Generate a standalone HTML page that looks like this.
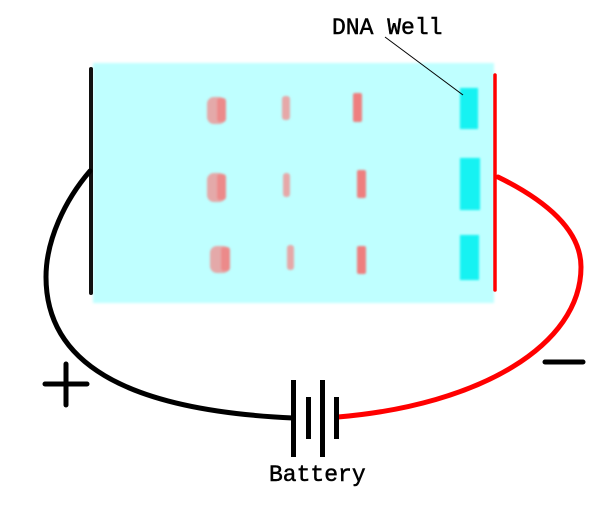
<!DOCTYPE html>
<html><head><meta charset="utf-8"><style>
html,body{margin:0;padding:0;background:#fff;}
svg{display:block;}
text{font-family:"Liberation Mono","DejaVu Sans Mono",monospace;font-weight:normal;font-size:23px;fill:#000;stroke:#000;stroke-width:0.5;}
</style></head><body>
<svg width="609" height="506" viewBox="0 0 609 506" xmlns="http://www.w3.org/2000/svg">
<defs>
<filter id="b1" x="-10%" y="-10%" width="120%" height="120%"><feGaussianBlur stdDeviation="1.2"/></filter>
<filter id="b2" x="-50%" y="-50%" width="200%" height="200%"><feGaussianBlur stdDeviation="1.1"/></filter>
</defs>
<rect width="609" height="506" fill="#fff"/>
<!-- gel -->
<rect x="93" y="63" width="401" height="240" fill="#bfffff" filter="url(#b1)"/>
<!-- wells -->
<g fill="#14f2f2" filter="url(#b2)">
<rect x="460" y="88" width="18" height="41"/>
<rect x="460" y="158" width="20" height="52"/>
<rect x="460" y="235" width="19" height="45"/>
</g>
<!-- bands -->
<g filter="url(#b2)">
<rect x="207" y="97" width="19" height="27" rx="7" fill="#e4a9a9"/>
<rect x="217" y="98" width="9" height="24" rx="3" fill="#ec8a8a"/>
<rect x="282" y="96" width="8" height="24" rx="3" fill="#e6a8a8"/>
<rect x="353" y="93" width="9" height="29" rx="2" fill="#ee7f7f"/>

<rect x="207" y="173" width="19" height="29" rx="7" fill="#e4a9a9"/>
<rect x="217" y="174" width="9" height="26" rx="3" fill="#ec8a8a"/>
<rect x="283" y="173" width="7" height="24" rx="3" fill="#e6a8a8"/>
<rect x="357" y="170" width="9" height="28" rx="2" fill="#ee7f7f"/>

<rect x="210" y="246" width="20" height="27" rx="7" fill="#e4a9a9"/>
<rect x="221" y="247" width="9" height="24" rx="3" fill="#ec8a8a"/>
<rect x="287" y="245" width="7" height="25" rx="3" fill="#e6a8a8"/>
<rect x="357" y="246" width="9" height="28" rx="2" fill="#ee7f7f"/>
</g>
<!-- electrodes -->
<line x1="91" y1="69" x2="91" y2="293" stroke="#111" stroke-width="4" stroke-linecap="round"/>
<line x1="495" y1="75" x2="495" y2="290" stroke="#ff0000" stroke-width="3.5" stroke-linecap="round"/>
<!-- wires -->
<path d="M90,171 C65,200 46,240 46,277 C46,360 120,410 293,418" fill="none" stroke="#000" stroke-width="5" stroke-linecap="round"/>
<path d="M498,177 C555,205 581,235 581,267 C581,345 480,405 338,417" fill="none" stroke="#ff0000" stroke-width="5" stroke-linecap="round"/>
<!-- battery -->
<g fill="#000">
<rect x="291" y="380" width="5" height="77"/>
<rect x="306" y="397" width="5" height="42"/>
<rect x="320" y="380" width="5" height="77"/>
<rect x="334" y="397" width="5" height="42"/>
</g>
<!-- plus / minus -->
<g stroke="#000" stroke-width="5" stroke-linecap="round">
<line x1="45" y1="384" x2="87" y2="384"/>
<line x1="66" y1="364" x2="66" y2="405"/>
<line x1="545" y1="362" x2="583" y2="362"/>
</g>
<!-- leader -->
<line x1="385" y1="37" x2="463" y2="95" stroke="#000" stroke-width="1"/>
<text x="332" y="34">DNA Well</text>
<text x="269" y="481">Battery</text>
</svg>
</body></html>
